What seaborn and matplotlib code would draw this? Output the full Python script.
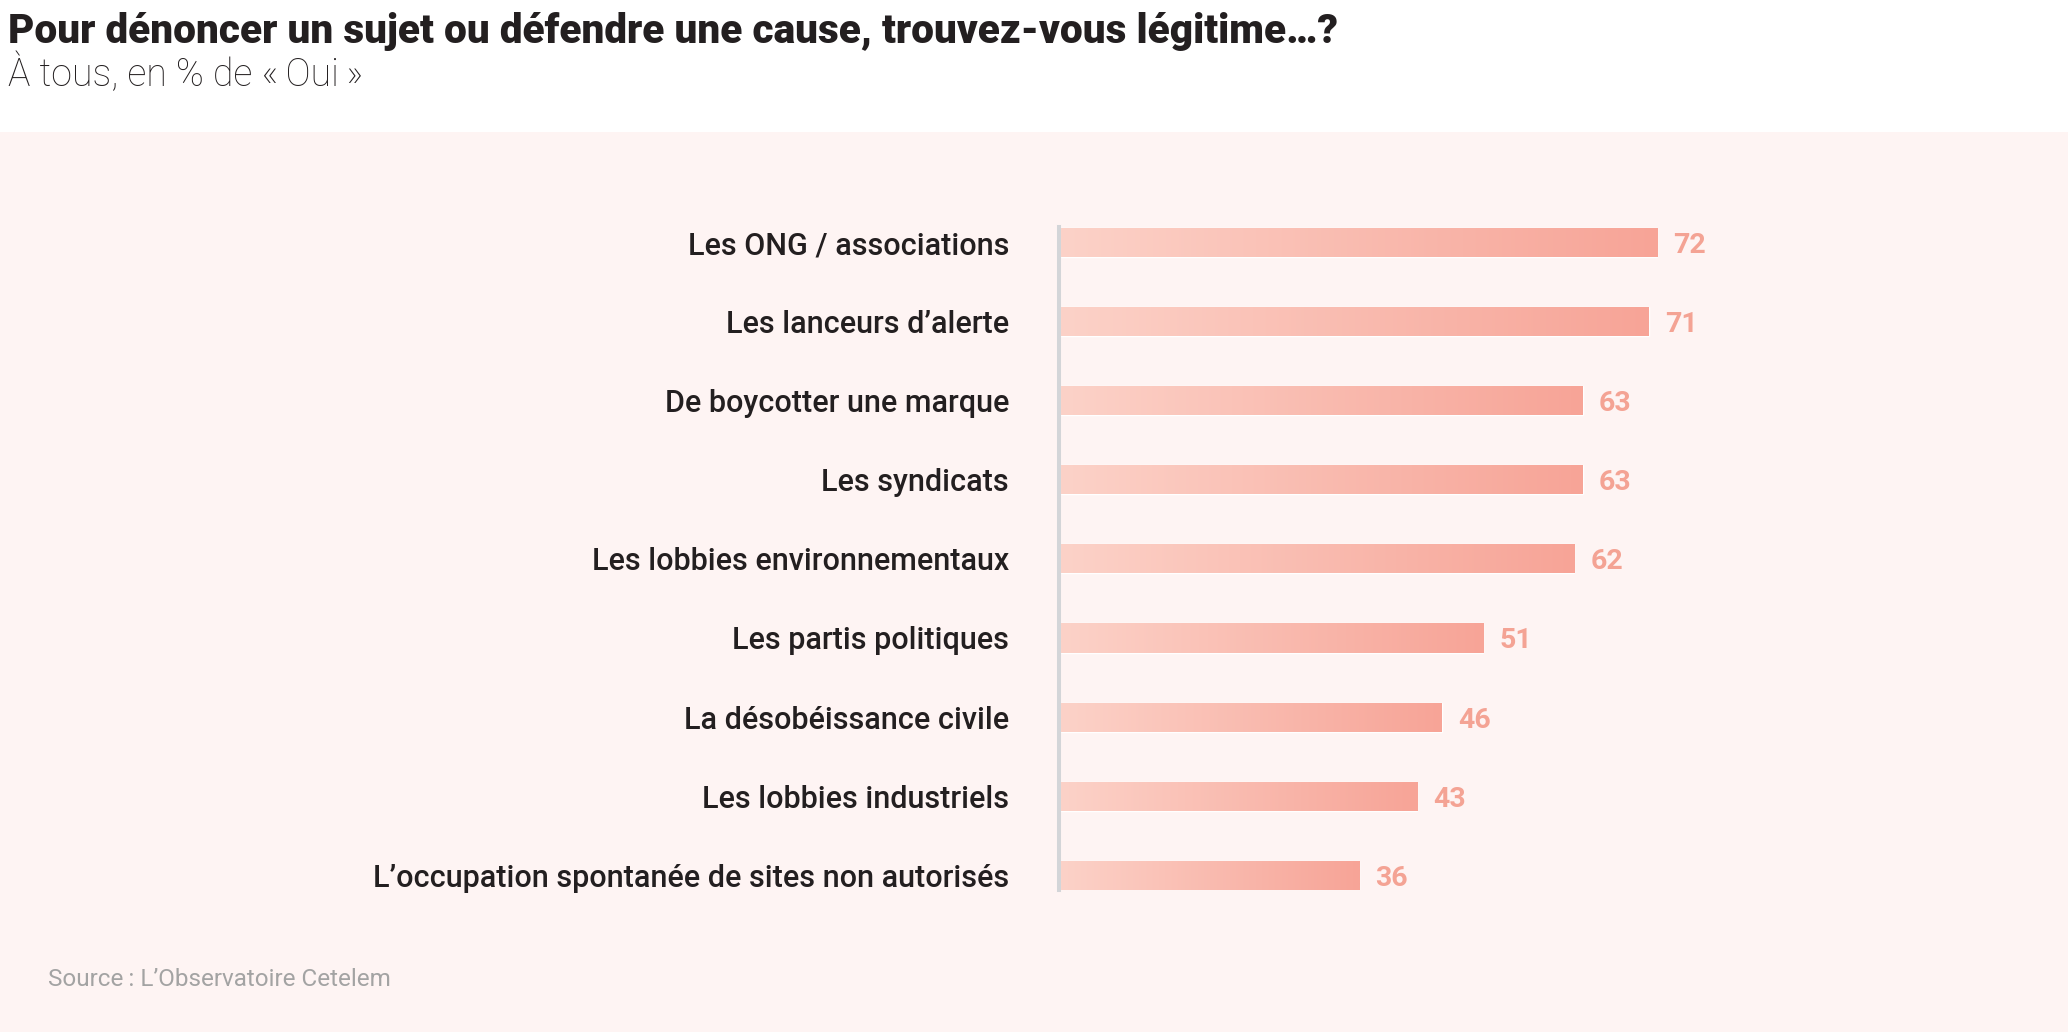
import numpy as np
import pandas as pd
import matplotlib
matplotlib.use("Agg")
import matplotlib.pyplot as plt
from matplotlib.patches import Rectangle
from matplotlib.colors import LinearSegmentedColormap
import seaborn as sns

categories = [
    "Les ONG / associations",
    "Les lanceurs d\u2019alerte",
    "De boycotter une marque",
    "Les syndicats",
    "Les lobbies environnementaux",
    "Les partis politiques",
    "La d\u00e9sob\u00e9issance civile",
    "Les lobbies industriels",
    "L\u2019occupation spontan\u00e9e de sites non autoris\u00e9s",
]
values = [72, 71, 63, 63, 62, 51, 46, 43, 36]

title = "Pour d\u00e9noncer un sujet ou d\u00e9fendre une cause, trouvez-vous l\u00e9gitime\u2026?"
subtitle = "\u00c0 tous, en % de \u00ab\u2009Oui\u2009\u00bb"
source = "Source\u2009: L\u2019Observatoire Cetelem"

df = pd.DataFrame({"cat": categories, "val": values})

sns.set_theme(style="white")
plt.rcParams["font.family"] = ["Roboto", "DejaVu Sans"]

W, H = 2068, 1032
fig = plt.figure(figsize=(W / 100, H / 100), dpi=100, facecolor="white")

bg = "#fef4f3"
fig.patches.append(Rectangle((0, 0), 1, 1 - 132 / H, transform=fig.transFigure,
                             facecolor=bg, edgecolor="none", zorder=-10))

ax_left = 1061 / W
ax_w = 828 / W
ax_top = 227 / H
ax_bot = 890 / H
ax = fig.add_axes([ax_left, 1 - ax_bot, ax_w, ax_bot - ax_top])
ax.set_facecolor("none")
ax.set_zorder(5)

sns.barplot(data=df, x="val", y="cat", orient="h", ax=ax, color="#f9b8ac",
            width=0.367, saturation=1)

ax.set_xlim(0, 100)
ax.set_ylim(8.186, -0.196)

cmap = LinearSegmentedColormap.from_list("g", ["#fcd2c8", "#f7a497"])
grad = np.linspace(0, 1, 256).reshape(1, -1)
for p in list(ax.patches):
    x0, y0 = p.get_x(), p.get_y()
    w, h = p.get_width(), p.get_height()
    im = ax.imshow(grad, cmap=cmap, aspect="auto", extent=(x0, x0 + w, y0 + h, y0),
                   zorder=p.get_zorder() + 0.1, interpolation="bilinear")
    im.set_clip_path(p)
ax.set_xlim(0, 100)
ax.set_ylim(8.186, -0.196)

for c in ax.containers:
    anns = ax.bar_label(c, labels=[str(v) for v in values], padding=11.5,
                        color="#f4a394", fontsize=20.5, fontweight="bold", family=["Roboto"])
    for a in anns:
        a.set_va("center_baseline")

for s in ["top", "right", "bottom"]:
    ax.spines[s].set_visible(False)
ax.spines["left"].set_color("#d3d5d8")
ax.spines["left"].set_linewidth(2.9)
ax.spines["left"].set_position(("outward", 1.4))
ax.set_xticks([])
ax.set_xlabel("")
ax.set_ylabel("")
ax.tick_params(axis="y", length=0, pad=36, labelsize=22, labelcolor="#231f20")
for t in ax.get_yticklabels():
    t.set_fontweight("medium")

fig.text(8 / W, 1 - 43 / H, title, fontsize=29.2, fontweight="black", color="#231f20",
         ha="left", va="baseline")
fig.text(8 / W, 1 - 86 / H, subtitle, fontsize=27, fontweight="light", color="#231f20",
         ha="left", va="baseline")
fig.text(48 / W, 1 - 986 / H, source, fontsize=17.5, fontweight="normal", color="#a3a3a3",
         ha="left", va="baseline")

fig.savefig("out.png", dpi=100, facecolor="white")
